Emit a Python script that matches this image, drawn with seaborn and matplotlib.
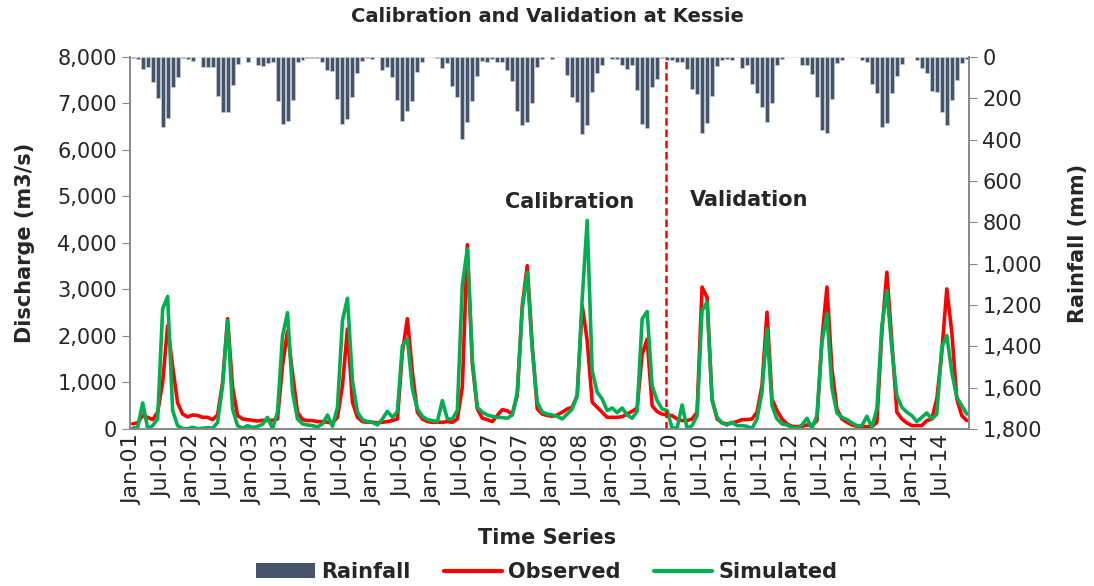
import numpy as np
import pandas as pd
import matplotlib
matplotlib.use("Agg")
import matplotlib.pyplot as plt
import seaborn as sns
from matplotlib.patches import Patch
from matplotlib.lines import Line2D
from matplotlib.ticker import FuncFormatter

# Datos mensuales Jan-2001 .. Dec-2014 (una fila por año)
rainfall = [
    5, 11, 60, 47, 123, 200, 337, 297, 147, 98, 6, 10,
    18, 2, 50, 47, 47, 189, 268, 268, 135, 34, 2, 23,
    2, 39, 42, 31, 23, 213, 327, 308, 210, 27, 15, 5,
    5, 5, 24, 66, 69, 202, 327, 300, 194, 79, 19, 8,
    11, 2, 66, 47, 98, 210, 311, 261, 213, 73, 27, 2,
    2, 5, 53, 31, 140, 195, 397, 313, 216, 95, 18, 27,
    11, 23, 23, 66, 119, 260, 329, 313, 224, 50, 11, 2,
    10, 2, 2, 87, 192, 219, 373, 329, 171, 79, 39, 2,
    10, 10, 39, 60, 39, 160, 324, 345, 144, 108, 6, 15,
    15, 27, 27, 58, 156, 179, 369, 318, 189, 44, 15, 11,
    15, 2, 55, 40, 132, 173, 244, 313, 221, 39, 10, 2,
    2, 2, 39, 39, 82, 192, 353, 366, 205, 31, 15, 2,
    2, 2, 15, 24, 132, 176, 340, 321, 173, 92, 34, 2,
    2, 15, 55, 79, 163, 168, 265, 329, 208, 110, 31, 10,
]

observed = [
    110, 130, 290, 250, 200, 360, 1000, 2220, 1340, 560, 320, 260,
    300, 290, 250, 250, 200, 300, 1000, 2370, 900, 290, 215, 200,
    185, 170, 185, 185, 185, 215, 1360, 2100, 1200, 360, 200, 180,
    180, 158, 158, 143, 130, 250, 930, 2150, 575, 250, 158, 143,
    143, 130, 143, 158, 180, 215, 1650, 2370, 1220, 360, 215, 158,
    143, 143, 143, 158, 143, 215, 900, 3960, 1400, 430, 230, 200,
    158, 290, 415, 390, 320, 720, 2650, 3510, 1800, 430, 320, 290,
    272, 300, 360, 430, 466, 717, 2650, 1900, 575, 466, 360, 250,
    250, 250, 265, 320, 380, 450, 1600, 1930, 500, 373, 320, 300,
    287, 215, 180, 180, 215, 360, 3050, 2830, 645, 215, 130, 108,
    130, 158, 200, 200, 215, 360, 930, 2510, 645, 395, 215, 108,
    57, 50, 57, 86, 72, 180, 1935, 3050, 1290, 430, 215, 143,
    86, 57, 50, 50, 50, 143, 2080, 3370, 1865, 360, 215, 130,
    72, 72, 72, 180, 215, 645, 1650, 3010, 2080, 645, 287, 180,
]

simulated = [
    15, 30, 560, 15, 70, 215, 2580, 2850, 395, 70, 10, 5,
    35, 5, 15, 25, 15, 140, 930, 2330, 430, 70, 15, 70,
    30, 55, 100, 250, 5, 360, 2000, 2500, 790, 215, 108, 86,
    72, 43, 108, 300, 57, 466, 2330, 2810, 1040, 360, 200, 158,
    143, 86, 215, 380, 250, 373, 1790, 1935, 860, 430, 272, 200,
    180, 158, 610, 215, 215, 395, 3100, 3870, 1500, 466, 360, 300,
    272, 250, 245, 230, 300, 790, 2580, 3370, 1700, 575, 360, 320,
    300, 272, 215, 320, 430, 717, 2800, 4480, 1250, 790, 645, 395,
    450, 350, 450, 300, 230, 380, 2366, 2524, 930, 610, 430, 395,
    20, 20, 516, 15, 72, 287, 2545, 2725, 610, 250, 130, 86,
    143, 72, 72, 57, 10, 215, 790, 2150, 500, 215, 108, 86,
    36, 15, 86, 230, 10, 287, 1865, 2475, 880, 344, 250, 200,
    130, 72, 72, 272, 36, 430, 2220, 2975, 1720, 717, 466, 360,
    287, 158, 250, 344, 215, 320, 1757, 2008, 1220, 680, 500, 320,
]

tick_labels = [f"{m}-{y:02d}" for y in range(1, 15) for m in ("Jan", "Jul")]
split_month = 106.7  # linea calibracion / validacion

months = np.arange(len(observed))
df = pd.DataFrame({"mes": months, "lluvia": rainfall,
                   "observado": observed, "simulado": simulated})

sns.set_style("white")
plt.rcParams["font.family"] = ["DejaVu Sans"]

gris = "#898989"
fig = plt.figure(figsize=(10.94, 5.86), dpi=100)
ax = fig.add_axes([0.119, 0.268, 0.767, 0.635])
rx = ax.twinx()

# Lluvia (barras invertidas, eje derecho)
sns.barplot(data=df, x="mes", y="lluvia", ax=rx, native_scale=True,
            color="#44546A", saturation=1, width=0.8,
            edgecolor="#cdd3dd", linewidth=0.4)
rx.set_ylim(1800, 0)
rx.set_yticks(np.arange(0, 1801, 200))
rx.yaxis.set_major_formatter(FuncFormatter(lambda v, p: f"{int(v):,}"))
rx.set_ylabel("")
rx.set_xlabel("")

# Caudales
sns.lineplot(data=df, x="mes", y="observado", ax=ax, color="#FF0000", lw=2.6)
sns.lineplot(data=df, x="mes", y="simulado", ax=ax, color="#00B050", lw=2.6)
ax.axvline(split_month, color="#FF0000", ls=(0, (3, 1.5)), lw=1.8)

ax.set_zorder(rx.get_zorder() + 1)
ax.patch.set_visible(False)

ax.set_ylim(0, 8000)
ax.set_yticks(np.arange(0, 8001, 1000))
ax.yaxis.set_major_formatter(FuncFormatter(lambda v, p: f"{int(v):,}"))
ax.set_xlim(-0.5, len(months) - 0.5)
ax.set_xticks(np.arange(-0.5, len(months), 6))
ax.set_xticklabels([])
ax.set_xticks(np.arange(0, len(months), 6), minor=True)
ax.set_xticklabels(tick_labels, minor=True, rotation=90)
ax.tick_params(axis="x", which="major", length=6, color=gris, direction="out")
ax.tick_params(axis="x", which="minor", length=0, labelsize=16, pad=4)
ax.tick_params(axis="y", length=6, color=gris, direction="out", labelsize=15, left=True)
rx.tick_params(axis="y", length=6, color=gris, direction="out", labelsize=15, right=True)
ax.set_xlabel("")
ax.set_ylabel("")

for a in (ax, rx):
    for s in ("left", "right", "bottom"):
        a.spines[s].set_visible(True)
        a.spines[s].set_color(gris)
        a.spines[s].set_linewidth(1.2)
    a.spines["top"].set_visible(False)

ax.text(87.5, 4880, "Calibration", ha="center", va="center", fontsize=15, fontweight="bold")
ax.text(123.5, 4920, "Validation", ha="center", va="center", fontsize=15, fontweight="bold")

fig.text(0.5, 0.971, "Calibration and Validation at Kessie", ha="center", va="center",
         fontsize=14, fontweight="bold")
fig.text(0.023, 0.585, "Discharge (m3/s)", rotation=90, ha="center", va="center",
         fontsize=15, fontweight="bold")
fig.text(0.985, 0.585, "Rainfall (mm)", rotation=90, ha="center", va="center",
         fontsize=15, fontweight="bold")
fig.text(0.5, 0.082, "Time Series", ha="center", va="center", fontsize=15, fontweight="bold")

handles = [Patch(facecolor="#44546A", edgecolor="none"),
           Line2D([0], [0], color="#FF0000", lw=3),
           Line2D([0], [0], color="#00B050", lw=3)]
fig.legend(handles, ["Rainfall", "Observed", "Simulated"], loc="center",
           bbox_to_anchor=(0.5, 0.024), ncol=3, frameon=False,
           prop={"weight": "bold", "size": 15}, handlelength=2.8,
           handletextpad=0.3, columnspacing=1.6)

fig.savefig("out.png", dpi=100)
